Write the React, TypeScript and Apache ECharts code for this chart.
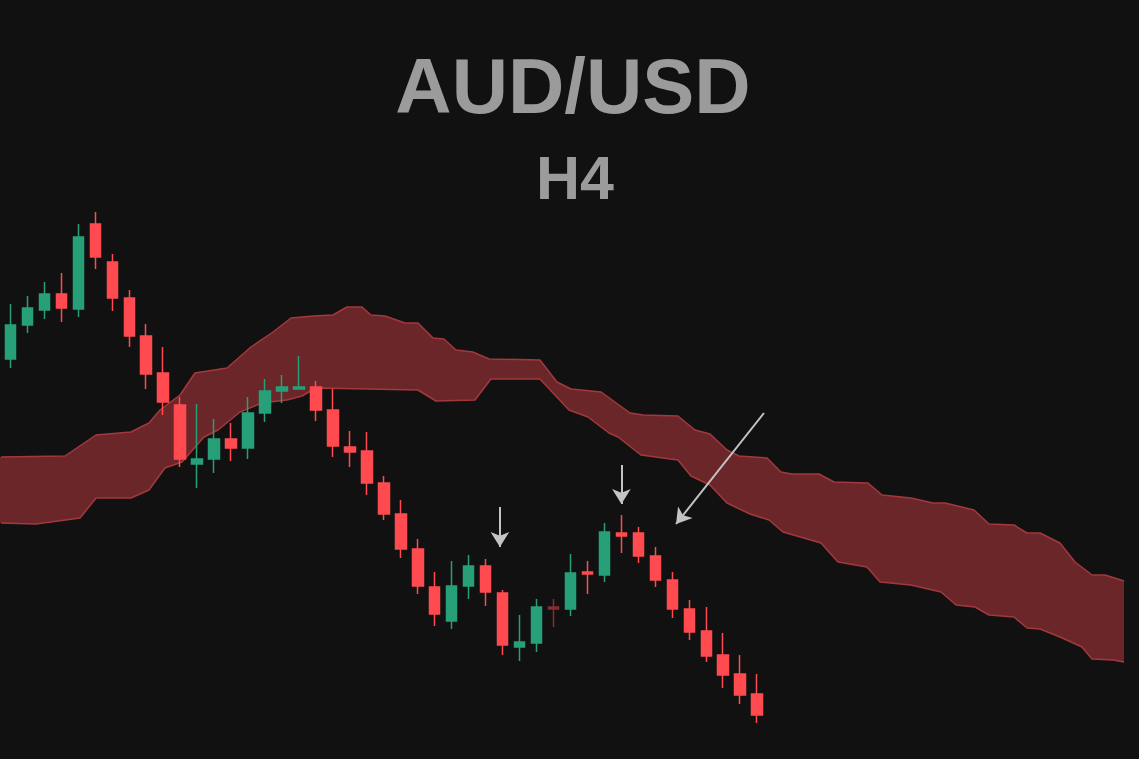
import React, { useEffect, useRef } from "react";
import * as echarts from "echarts";

// ---- Data (price units, AUD/USD H4) ----
const periods: string[] = Array.from({ length: 67 }, (_, i) => `P${i + 1}`);

const opens = [
  0.6401, 0.6435, 0.6450, 0.6466, 0.6451, 0.6536, 0.6498, 0.6462, 0.6424, 0.6387,
  0.6355, 0.6296, 0.6301, 0.6321, 0.6312, 0.6347, 0.6369, 0.6371, 0.6373, 0.6350,
  0.6313, 0.6309, 0.6277, 0.6246, 0.6211, 0.6173, 0.6139, 0.6174, 0.6194, 0.6167,
  0.6113, 0.6117, 0.6153, 0.6151, 0.6188, 0.6185, 0.6227, 0.6227, 0.6204, 0.6180,
  0.6151, 0.6129, 0.6105, 0.6086, 0.6066,
];
const closes = [
  0.6435, 0.6452, 0.6466, 0.6452, 0.6523, 0.6503, 0.6462, 0.6424, 0.6386, 0.6358,
  0.6301, 0.6301, 0.6321, 0.6312, 0.6347, 0.6369, 0.6373, 0.6373, 0.6350, 0.6314,
  0.6308, 0.6277, 0.6246, 0.6211, 0.6174, 0.6146, 0.6174, 0.6194, 0.6168, 0.6115,
  0.6118, 0.6153, 0.6151, 0.6187, 0.6186, 0.6228, 0.6224, 0.6204, 0.6180, 0.6151,
  0.6128, 0.6104, 0.6085, 0.6065, 0.6045,
];
const lows = [
  0.6392, 0.6427, 0.6441, 0.6438, 0.6443, 0.6491, 0.6449, 0.6413, 0.6371, 0.6345,
  0.6293, 0.6272, 0.6287, 0.6299, 0.6301, 0.6338, 0.6357, 0.6371, 0.6339, 0.6303,
  0.6293, 0.6265, 0.6240, 0.6202, 0.6166, 0.6134, 0.6131, 0.6161, 0.6154, 0.6105,
  0.6099, 0.6108, 0.6133, 0.6144, 0.6166, 0.6178, 0.6207, 0.6197, 0.6173, 0.6142,
  0.6120, 0.6098, 0.6072, 0.6056, 0.6037,
];
const highs = [
  0.6456, 0.6464, 0.6478, 0.6487, 0.6536, 0.6548, 0.6506, 0.6470, 0.6436, 0.6413,
  0.6363, 0.6356, 0.6341, 0.6337, 0.6363, 0.6381, 0.6385, 0.6404, 0.6379, 0.6371,
  0.6329, 0.6328, 0.6284, 0.6260, 0.6221, 0.6188, 0.6199, 0.6205, 0.6201, 0.6170,
  0.6145, 0.6161, 0.6161, 0.6206, 0.6199, 0.6237, 0.6245, 0.6233, 0.6213, 0.6188,
  0.6160, 0.6153, 0.6127, 0.6105, 0.6086,
];
const fadedCandles = [32];

// Ichimoku cloud edges: [period position, price]
const cloudUpper: [number, number][] = [
  [-0.62, 0.6303], [3.21, 0.6304], [5.04, 0.6325], [7.10, 0.6328], [8.16, 0.6337],
  [8.81, 0.6350], [9.99, 0.6365], [10.87, 0.6387], [12.76, 0.6392], [14.17, 0.6413],
  [15.47, 0.6428], [16.53, 0.6442], [17.83, 0.6444], [19.00, 0.6445], [19.83, 0.6453],
  [20.71, 0.6453], [21.24, 0.6445], [22.07, 0.6444], [23.25, 0.6437], [24.01, 0.6437],
  [24.90, 0.6422], [25.54, 0.6421], [26.25, 0.6410], [27.25, 0.6408], [28.20, 0.6401],
  [31.20, 0.6400], [32.20, 0.6378], [33.03, 0.6371], [34.80, 0.6368], [36.51, 0.6347],
  [37.27, 0.6345], [39.33, 0.6344], [40.34, 0.6330], [41.22, 0.6326], [42.22, 0.6310],
  [42.93, 0.6304], [44.58, 0.6302], [45.40, 0.6288], [46.05, 0.6286], [47.64, 0.6286],
  [48.53, 0.6278], [50.53, 0.6277], [51.36, 0.6265], [53.06, 0.6262], [54.36, 0.6257],
  [55.07, 0.6257], [56.78, 0.6250], [57.66, 0.6236], [59.13, 0.6235], [59.90, 0.6227],
  [60.67, 0.6227], [61.84, 0.6217], [62.73, 0.6198], [63.73, 0.6185], [64.50, 0.6185],
  [65.62, 0.6179],
];
const cloudLower: [number, number][] = [
  [-0.62, 0.6237], [1.50, 0.6236], [4.10, 0.6242], [5.04, 0.6262], [7.10, 0.6262],
  [8.16, 0.6270], [9.10, 0.6292], [10.11, 0.6298], [11.40, 0.6323], [12.23, 0.6330],
  [13.52, 0.6348], [14.82, 0.6357], [16.29, 0.6360], [17.18, 0.6364], [18.00, 0.6372],
  [24.01, 0.6370], [25.07, 0.6359], [27.37, 0.6360], [28.31, 0.6381], [31.20, 0.6381],
  [32.91, 0.6350], [34.03, 0.6343], [35.27, 0.6327], [35.80, 0.6323], [37.15, 0.6305],
  [39.33, 0.6300], [40.10, 0.6284], [41.22, 0.6275], [42.22, 0.6257], [43.58, 0.6246],
  [44.70, 0.6240], [45.52, 0.6228], [47.76, 0.6217], [48.76, 0.6198], [50.47, 0.6193],
  [51.24, 0.6178], [53.06, 0.6175], [54.83, 0.6168], [55.72, 0.6155], [56.84, 0.6153],
  [57.66, 0.6145], [59.13, 0.6143], [59.90, 0.6132], [60.67, 0.6131], [61.84, 0.6123],
  [63.14, 0.6113], [63.73, 0.6101], [64.97, 0.6100], [65.62, 0.6098],
];

// Annotation arrows: [start, tip] in [period position, price]
const arrows: [[number, number], [number, number]][] = [
  [[28.84, 0.6253], [28.84, 0.6213]],
  [[36.0, 0.6295], [36.0, 0.6256]],
  [[44.4, 0.6347], [39.22, 0.6236]],
];

const titleText = "AUD/USD";
const subtitleText = "H4";

export default function App() {
  const ref = useRef<HTMLDivElement>(null);
  useEffect(() => {
    if (!ref.current) return;
    const chart = echarts.init(ref.current, undefined, { renderer: "svg" });
    const GREEN = "#27a07a";
    const RED = "#ff4b4f";
    const candleData = opens.map((o, i) => {
      const item: any = { value: [o, closes[i], lows[i], highs[i]] };
      if (fadedCandles.includes(i)) {
        item.itemStyle = { color: "#8a2c2f", borderColor: "#8a2c2f", color0: "#8a2c2f", borderColor0: "#8a2c2f" };
      }
      return item;
    });
    const option: any = {
      animation: false,
      backgroundColor: "#111111",
      grid: { left: 2, right: 0, top: 0, bottom: 0 },
      xAxis: [
        { type: "category", data: periods, boundaryGap: true, show: false },
        { type: "value", min: -0.5, max: 66.5, show: false },
      ],
      yAxis: { type: "value", min: 0.6001, max: 0.676, show: false, splitLine: { show: false } },
      graphic: [
        {
          type: "text",
          x: 573,
          y: 86,
          style: {
            text: titleText,
            fill: "#9b9b9b",
            fontSize: 78,
            fontWeight: "bold",
            fontFamily: "Liberation Sans, Arial, sans-serif",
            align: "center",
            verticalAlign: "middle",
          },
        },
        {
          type: "text",
          x: 575,
          y: 178,
          style: {
            text: subtitleText,
            fill: "#9b9b9b",
            fontSize: 61,
            fontWeight: "bold",
            fontFamily: "Liberation Sans, Arial, sans-serif",
            align: "center",
            verticalAlign: "middle",
          },
        },
      ],
      series: [
        {
          type: "custom",
          name: "Cloud",
          xAxisIndex: 1,
          yAxisIndex: 0,
          z: 1,
          silent: true,
          data: [[30, 0.63]],
          renderItem: (_params: any, api: any) => {
            const pts = [
              ...cloudUpper.map((p) => api.coord(p)),
              ...cloudLower.slice().reverse().map((p) => api.coord(p)),
            ];
            return { type: "polygon", shape: { points: pts }, style: { fill: "#6a2629" } };
          },
        },
        {
          type: "line",
          name: "Senkou A",
          xAxisIndex: 1,
          data: cloudUpper,
          showSymbol: false,
          clip: false,
          z: 2,
          silent: true,
          lineStyle: { color: "#a3393d", width: 1.5 },
          markLine: {
            silent: true,
            symbol: ["none", "arrow"],
            symbolSize: [14, 15],
            label: { show: false },
            lineStyle: { color: "#c4c4c4", width: 2, type: "solid" },
            data: arrows.map(([a, b]) => [{ coord: a }, { coord: b }]),
            z: 10,
          },
        },
        {
          type: "line",
          name: "Senkou B",
          xAxisIndex: 1,
          data: cloudLower,
          showSymbol: false,
          clip: false,
          z: 2,
          silent: true,
          lineStyle: { color: "#a3393d", width: 1.5 },
        },
        {
          type: "candlestick",
          name: "AUD/USD",
          xAxisIndex: 0,
          yAxisIndex: 0,
          z: 3,
          barWidth: 11,
          data: candleData,
          itemStyle: {
            color: GREEN,
            color0: RED,
            borderColor: GREEN,
            borderColor0: RED,
            borderWidth: 1.5,
          },
        },
      ],
    };
    chart.setOption(option);
    return () => chart.dispose();
  }, []);
  return (
    <div
      ref={ref}
      style={{ position: "fixed", left: 0, top: 0, width: 1139, height: 759 }}
    />
  );
}
